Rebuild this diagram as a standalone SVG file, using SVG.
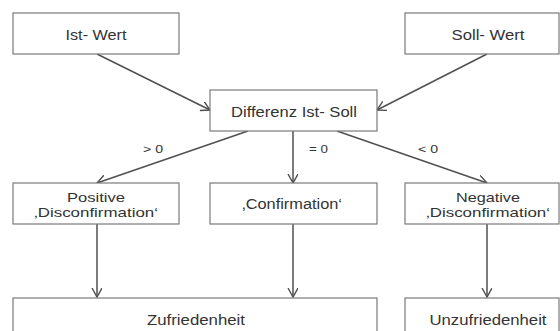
<svg xmlns="http://www.w3.org/2000/svg" width="560" height="331" viewBox="0 0 560 331">
  <style>
    .box { fill: #ffffff; stroke: #7a7a7a; stroke-width: 1.2; }
    .lbl { font-family: "Liberation Sans", Arial, sans-serif; font-size: 14px; fill: #333333; text-anchor: middle; }
    .two { font-size: 13px; }
    .cond { font-family: "Liberation Sans", Arial, sans-serif; font-size: 11.5px; fill: #333333; text-anchor: middle; }
    .edge { stroke: #505050; stroke-width: 1.5; fill: none; marker-end: url(#arrow); }
  </style>
  <defs>
    <marker id="arrow" markerUnits="userSpaceOnUse" markerWidth="12" markerHeight="12" refX="9" refY="5" orient="auto">
      <path d="M0,0 L9,5 L0,10" fill="none" stroke="#505050" stroke-width="1.4"/>
    </marker>
  </defs>
  <rect width="560" height="331" fill="#ffffff"/>

  <g id="connectors">
    <line class="edge" x1="97" y1="54" x2="210" y2="110"/>
    <line class="edge" x1="487" y1="54" x2="377" y2="110"/>
    <line class="edge" x1="248" y1="131" x2="97" y2="183"/>
    <line class="edge" x1="293" y1="131" x2="293" y2="183"/>
    <line class="edge" x1="337" y1="131" x2="487" y2="183"/>
    <line class="edge" x1="97" y1="224" x2="97" y2="297"/>
    <line class="edge" x1="293" y1="224" x2="293" y2="297"/>
    <line class="edge" x1="487" y1="224" x2="487" y2="297"/>
    <text class="cond" x="153" y="153" textLength="20" lengthAdjust="spacingAndGlyphs">&gt; 0</text>
    <text class="cond" x="318.5" y="153" textLength="19" lengthAdjust="spacingAndGlyphs">= 0</text>
    <text class="cond" x="428" y="153" textLength="20" lengthAdjust="spacingAndGlyphs">&lt; 0</text>
  </g>

  <g id="ist-wert">
    <rect class="box" x="13" y="13" width="166" height="41"/>
    <text class="lbl" x="96" y="40.3" textLength="61" lengthAdjust="spacingAndGlyphs">Ist- Wert</text>
  </g>
  <g id="soll-wert">
    <rect class="box" x="405" y="13" width="154" height="41"/>
    <text class="lbl" x="488" y="40.3" textLength="73" lengthAdjust="spacingAndGlyphs">Soll- Wert</text>
  </g>
  <g id="differenz">
    <rect class="box" x="210" y="90" width="167" height="41"/>
    <text class="lbl" x="294" y="117" textLength="126" lengthAdjust="spacingAndGlyphs">Differenz Ist- Soll</text>
  </g>
  <g id="positive">
    <rect class="box" x="13" y="183" width="166" height="41"/>
    <text class="lbl two"><tspan x="96" y="202" textLength="58" lengthAdjust="spacingAndGlyphs">Positive</tspan><tspan x="96" y="216.8" textLength="124" lengthAdjust="spacingAndGlyphs">‚Disconfirmation‘</tspan></text>
  </g>
  <g id="confirmation">
    <rect class="box" x="210" y="183" width="167" height="41"/>
    <text class="lbl" x="292" y="209.3" textLength="100" lengthAdjust="spacingAndGlyphs">‚Confirmation‘</text>
  </g>
  <g id="negative">
    <rect class="box" x="405" y="183" width="154" height="41"/>
    <text class="lbl two"><tspan x="488" y="202" textLength="64" lengthAdjust="spacingAndGlyphs">Negative</tspan><tspan x="488" y="216.8" textLength="124" lengthAdjust="spacingAndGlyphs">‚Disconfirmation‘</tspan></text>
  </g>
  <g id="zufriedenheit">
    <rect class="box" x="13" y="298" width="364" height="50"/>
    <text class="lbl" x="196" y="325" textLength="98" lengthAdjust="spacingAndGlyphs">Zufriedenheit</text>
  </g>
  <g id="unzufriedenheit">
    <rect class="box" x="405" y="298" width="154" height="50"/>
    <text class="lbl" x="488" y="325" textLength="117" lengthAdjust="spacingAndGlyphs">Unzufriedenheit</text>
  </g>
</svg>
